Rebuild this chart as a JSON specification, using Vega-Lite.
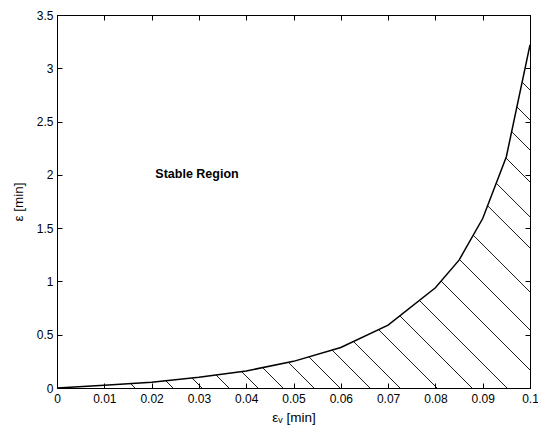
{
  "$schema": "https://vega.github.io/schema/vega-lite/v6.json",
  "width": 473,
  "height": 373,
  "autosize": "none",
  "padding": {"left": 57, "top": 15, "right": 8, "bottom": 42},
  "background": "white",
  "config": {
    "view": {"stroke": "black", "strokeWidth": 1},
    "font": "Liberation Sans",
    "axis": {
      "grid": false,
      "domainColor": "black",
      "domainWidth": 1,
      "tickColor": "black",
      "tickSize": -5,
      "tickWidth": 1,
      "labelColor": "black",
      "labelFont": "Liberation Sans",
      "labelFontSize": 12,
      "labelOverlap": false,
      "labelFlush": false,
      "titleFont": "Liberation Sans",
      "titleFontSize": 13.5,
      "titleFontWeight": "normal",
      "titleColor": "black"
    }
  },
  "datasets": {
    "curve": [
      {"x": 0, "y": 0},
      {"x": 0.01, "y": 0.025},
      {"x": 0.02, "y": 0.055},
      {"x": 0.03, "y": 0.1},
      {"x": 0.04, "y": 0.16},
      {"x": 0.05, "y": 0.25},
      {"x": 0.06, "y": 0.38},
      {"x": 0.07, "y": 0.59},
      {"x": 0.08, "y": 0.94},
      {"x": 0.085, "y": 1.2},
      {"x": 0.09, "y": 1.59},
      {"x": 0.095, "y": 2.17},
      {"x": 0.1, "y": 3.22}
    ],
    "hatch": [
      {"x1": 0.01554, "y1": 0.042, "x2": 0.01649, "y2": 0},
      {"x1": 0.02298, "y1": 0.0688, "x2": 0.02452, "y2": 0},
      {"x1": 0.02854, "y1": 0.0938, "x2": 0.03066, "y2": 0},
      {"x1": 0.03362, "y1": 0.122, "x2": 0.03636, "y2": 0},
      {"x1": 0.03901, "y1": 0.1545, "x2": 0.04249, "y2": 0},
      {"x1": 0.04347, "y1": 0.1914, "x2": 0.04778, "y2": 0},
      {"x1": 0.04892, "y1": 0.24, "x2": 0.05433, "y2": 0},
      {"x1": 0.05326, "y1": 0.292, "x2": 0.05983, "y2": 0},
      {"x1": 0.05816, "y1": 0.356, "x2": 0.06617, "y2": 0},
      {"x1": 0.06268, "y1": 0.436, "x2": 0.07252, "y2": 0},
      {"x1": 0.06799, "y1": 0.548, "x2": 0.08034, "y2": 0},
      {"x1": 0.07247, "y1": 0.678, "x2": 0.08774, "y2": 0},
      {"x1": 0.07662, "y1": 0.822, "x2": 0.09514, "y2": 0},
      {"x1": 0.08121, "y1": 1.003, "x2": 0.1, "y2": 0.169},
      {"x1": 0.08506, "y1": 1.207, "x2": 0.1, "y2": 0.544},
      {"x1": 0.088, "y1": 1.434, "x2": 0.1, "y2": 0.901},
      {"x1": 0.09102, "y1": 1.711, "x2": 0.1, "y2": 1.314},
      {"x1": 0.09286, "y1": 1.922, "x2": 0.1, "y2": 1.605},
      {"x1": 0.0949, "y1": 2.159, "x2": 0.1, "y2": 1.933},
      {"x1": 0.09612, "y1": 2.406, "x2": 0.1, "y2": 2.233},
      {"x1": 0.09722, "y1": 2.638, "x2": 0.1, "y2": 2.515},
      {"x1": 0.09834, "y1": 2.87, "x2": 0.1, "y2": 2.796}
    ],
    "label": [
      {"x": 0.0296, "y": 2.008, "text": "Stable Region"}
    ]
  },
  "layer": [
    {
      "data": {"name": "hatch"},
      "mark": {"type": "rule", "color": "black", "strokeWidth": 0.9},
      "encoding": {
        "x": {
          "field": "x1", "type": "quantitative",
          "scale": {"domain": [0, 0.1], "nice": false, "zero": false},
          "axis": {
            "orient": "bottom",
            "values": [0, 0.01, 0.02, 0.03, 0.04, 0.05, 0.06, 0.07, 0.08, 0.09, 0.1],
            "format": "~g",
            "labelPadding": 10,
            "title": "εᵥ [min]",
            "titlePadding": 6
          }
        },
        "x2": {"field": "x2"},
        "y": {
          "field": "y1", "type": "quantitative",
          "scale": {"domain": [0, 3.5], "nice": false, "zero": false},
          "axis": {
            "orient": "left",
            "values": [0, 0.5, 1, 1.5, 2, 2.5, 3, 3.5],
            "format": "~g",
            "labelPadding": 9,
            "title": "ε [min]",
            "titlePadding": 11
          }
        },
        "y2": {"field": "y2"}
      }
    },
    {
      "data": {"name": "curve"},
      "mark": {"type": "line", "color": "black", "strokeWidth": 1.5, "clip": true},
      "encoding": {
        "x": {
          "field": "x", "type": "quantitative",
          "axis": {
            "orient": "top",
            "values": [0, 0.01, 0.02, 0.03, 0.04, 0.05, 0.06, 0.07, 0.08, 0.09, 0.1],
            "labels": false,
            "title": null
          }
        },
        "y": {
          "field": "y", "type": "quantitative",
          "axis": {
            "orient": "right",
            "values": [0, 0.5, 1, 1.5, 2, 2.5, 3, 3.5],
            "labels": false,
            "title": null
          }
        }
      }
    },
    {
      "data": {"name": "label"},
      "mark": {"type": "text", "font": "Liberation Sans", "fontWeight": "bold", "fontSize": 12.5, "color": "black", "align": "center", "baseline": "middle"},
      "encoding": {
        "x": {"field": "x", "type": "quantitative", "axis": null},
        "y": {"field": "y", "type": "quantitative", "axis": null},
        "text": {"field": "text"}
      }
    }
  ],
  "resolve": {"axis": {"x": "independent", "y": "independent"}}
}
